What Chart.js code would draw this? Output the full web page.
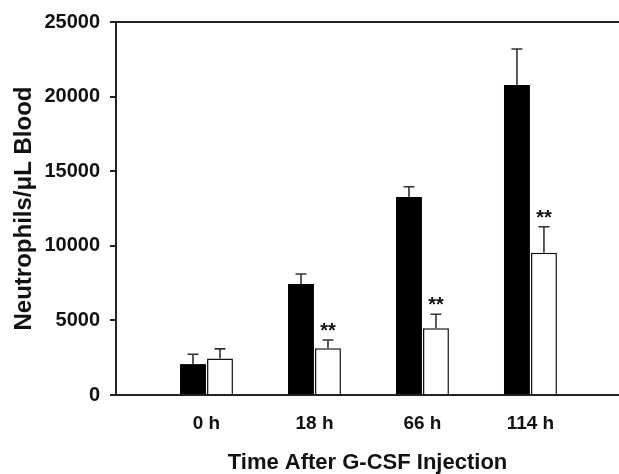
<!DOCTYPE html>
<html>
<head>
<meta charset="utf-8">
<script src="https://cdn.jsdelivr.net/npm/chart.js@4"></script>
<style>
  body { margin: 0; background: #fff; }
</style>
</head>
<body>
<canvas id="myChart" width="619" height="474"></canvas>
<script>
const categories = ["0 h", "18 h", "66 h", "114 h"];
const controlValues = [2070, 7440, 13270, 20780];
const controlErrors = [660, 670, 690, 2410];
const gcsfValues = [2450, 3130, 4470, 9540];
const gcsfErrors = [640, 560, 940, 1740];
const marks = ["", "**", "**", "**"];
const yTicks = [0, 5000, 10000, 15000, 20000, 25000];

const fontFamily = "'Liberation Sans', Arial, sans-serif";
const chartPlace = document.getElementById("myChart");

// error bars (upper half only, like the original)
const errorBars = {
  id: "errorBars",
  afterDatasetsDraw(chart) {
    const ctx = chart.ctx;
    const y = chart.scales.y;
    const errs = [controlErrors, gcsfErrors];
    ctx.save();
    ctx.strokeStyle = "#333";
    ctx.lineWidth = 1.6;
    chart.data.datasets.forEach((ds, d) => {
      chart.getDatasetMeta(d).data.forEach((bar, i) => {
        const top = y.getPixelForValue(ds.data[i].y + errs[d][i]);
        ctx.beginPath();
        ctx.moveTo(bar.x, bar.y);
        ctx.lineTo(bar.x, top);
        ctx.moveTo(bar.x - 5.5, top);
        ctx.lineTo(bar.x + 5.5, top);
        ctx.stroke();
        if (d === 1 && marks[i]) {
          ctx.fillStyle = "#111";
          ctx.font = "bold 20px " + fontFamily;
          ctx.textAlign = "center";
          ctx.textBaseline = "alphabetic";
          ctx.fillText(marks[i], bar.x, top - 3);
        }
      });
    });
    // top frame line
    const a = chart.chartArea;
    ctx.strokeStyle = "#222";
    ctx.lineWidth = 2;
    ctx.beginPath();
    ctx.moveTo(a.left - 1, a.top);
    ctx.lineTo(a.right, a.top);
    ctx.stroke();
    ctx.restore();
  }
};

const myChart = new Chart(chartPlace, {
  type: "bar",
  data: {
    datasets: [
      {
        label: "Control",
        data: controlValues.map((v, i) => ({ x: i, y: v })),
        backgroundColor: "#000",
        borderColor: "#000",
        borderWidth: 0
      },
      {
        label: "G-CSF",
        data: gcsfValues.map((v, i) => ({ x: i, y: v })),
        backgroundColor: "#fff",
        borderColor: "#111",
        borderWidth: 1.5
      }
    ]
  },
  options: {
    responsive: false,
    animation: false,
    barPercentage: 0.96,
    categoryPercentage: 0.5,
    layout: { padding: { top: 22, right: 0, left: 0, bottom: 0 } },
    plugins: {
      legend: { display: false },
      tooltip: { enabled: false }
    },
    scales: {
      x: {
        type: "linear",
        offset: false,
        min: -0.838,
        max: 3.82,
        afterBuildTicks: (scale) => {
          scale.ticks = categories.map((c, i) => ({ value: i }));
        },
        afterFit: (scale) => { scale.height = 79; },
        grid: { display: false, drawTicks: false },
        border: { display: true, color: "#222", width: 2 },
        ticks: {
          padding: 17,
          color: "#111",
          font: { family: fontFamily, size: 19, weight: "bold" },
          callback: (v) => categories[v]
        },
        title: {
          display: true,
          text: "Time After G-CSF Injection",
          color: "#111",
          padding: { top: 0, bottom: 0 },
          font: { family: fontFamily, size: 22, weight: "bold", lineHeight: 1.0 }
        }
      },
      y: {
        min: 0,
        max: 25000,
        afterBuildTicks: (scale) => {
          scale.ticks = yTicks.map((v) => ({ value: v }));
        },
        afterFit: (scale) => { scale.width = 116; },
        grid: { display: true, drawOnChartArea: false, drawTicks: true, tickLength: 6, color: "#222", lineWidth: 2 },
        border: { display: true, color: "#222", width: 2 },
        ticks: {
          padding: 10,
          color: "#111",
          font: { family: fontFamily, size: 20, weight: "bold" },
          callback: (v) => String(v)
        },
        title: {
          display: true,
          text: "Neutrophils/μL Blood",
          color: "#111",
          padding: { top: 10, bottom: 0 },
          font: { family: fontFamily, size: 24, weight: "bold" }
        }
      }
    }
  },
  plugins: [errorBars]
});
</script>
</body>
</html>
